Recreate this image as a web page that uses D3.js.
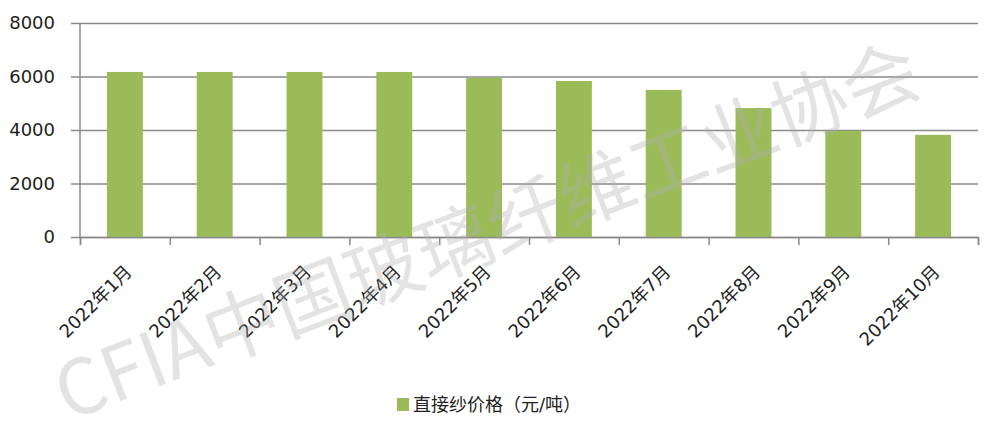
<!DOCTYPE html>
<html><head><meta charset="utf-8">
<script src="https://cdn.jsdelivr.net/npm/d3@7"></script>
<style>body{margin:0;background:#fff}svg{display:block}</style>
</head><body>
<script>
const categories = ["2022年1月","2022年2月","2022年3月","2022年4月","2022年5月","2022年6月","2022年7月","2022年8月","2022年9月","2022年10月"];
const values = [6170,6170,6170,6170,5950,5830,5500,4820,3970,3820];
const yTicks = [0,2000,4000,6000,8000];
const seriesName = "直接纱价格（元/吨）";
const watermark = "CFIA中国玻璃纤维工业协会";

const W = 996, H = 428;
const m = {l:80, r:18, t:23, b:191};
const svg = d3.select("body").append("svg").attr("width",W).attr("height",H);

const x = d3.scaleBand().domain(categories).range([m.l, W-m.r]).paddingInner(0.6).paddingOuter(0.3);
const y = d3.scaleLinear().domain([0,8000]).range([H-m.b, m.t]);
const font = "'DejaVu Sans','Noto Sans CJK SC',sans-serif";

// gridlines + y axis
const ya = svg.append("g").attr("transform",`translate(${m.l},0)`)
  .call(d3.axisLeft(y).tickValues(yTicks).tickFormat(d3.format("d")).tickSize(-(W-m.r-m.l)).tickSizeOuter(0).tickPadding(25));
ya.select(".domain").remove();
ya.selectAll(".tick line").attr("stroke","#8a8a8a").attr("stroke-width",1.5).attr("x1",-9);
ya.selectAll(".tick text").attr("font-family",font).attr("font-size",18).attr("fill","#222");
svg.append("line").attr("x1",m.l).attr("x2",m.l).attr("y1",m.t).attr("y2",H-m.b)
  .attr("stroke","#8a8a8a").attr("stroke-width",1.5);

// bars
svg.append("g").selectAll("rect").data(values).join("rect")
  .attr("x",(d,i)=>x(categories[i])).attr("width",x.bandwidth())
  .attr("y",d=>y(d)).attr("height",d=>y(0)-y(d)).attr("fill","#9bbb59");

// x axis
const xb = d3.scaleLinear().domain([0,categories.length]).range([m.l, W-m.r]);
const xa = svg.append("g").attr("transform",`translate(0,${H-m.b})`)
  .call(d3.axisBottom(xb).tickValues(d3.range(categories.length+1)).tickSize(8).tickFormat(""));
xa.select(".domain").attr("stroke","#8a8a8a").attr("stroke-width",1.5);
xa.selectAll(".tick line").attr("stroke","#8a8a8a").attr("stroke-width",1.5);

svg.append("g").selectAll("text").data(categories).join("text")
  .attr("transform",d=>`translate(${x(d)+x.bandwidth()/2+8},${H-m.b+36}) rotate(-45)`)
  .attr("text-anchor","end").attr("font-family",font).attr("font-size",18).attr("fill","#222")
  .text(d=>d);

// legend
const lg = svg.append("g").attr("transform","translate(397,398)");
lg.append("rect").attr("width",12).attr("height",13).attr("fill","#9bbb59");
lg.append("text").attr("x",16).attr("y",13).attr("font-family",font).attr("font-size",18).attr("fill","#222").text(seriesName);

// watermark
svg.append("text").attr("transform","translate(485,226) rotate(-21)")
  .attr("text-anchor","middle").attr("dominant-baseline","central")
  .attr("font-family","'Noto Sans CJK SC',sans-serif").attr("font-size",76)
  .attr("fill","#b0b0b0").attr("fill-opacity",0.35).text(watermark);
</script>
</body></html>
